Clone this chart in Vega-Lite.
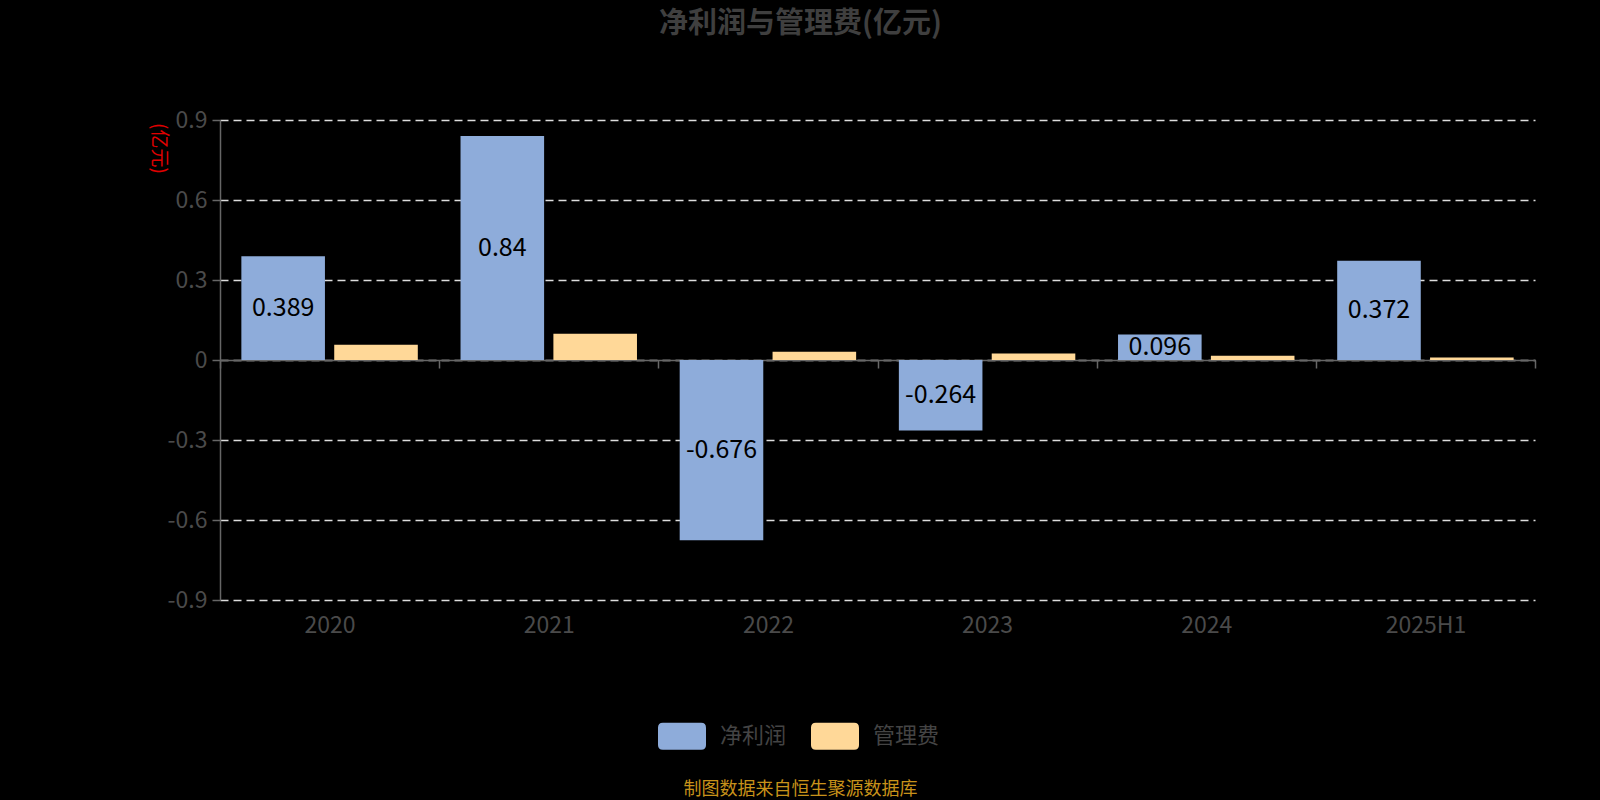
{
  "$schema": "https://vega.github.io/schema/vega-lite/v6.json",
  "width": 1315,
  "height": 480,
  "autosize": {"type": "none"},
  "padding": {"left": 220, "top": 120, "right": 65, "bottom": 200},
  "background": "#000000",
  "title": {
    "text": "净利润与管理费(亿元)",
    "anchor": "middle",
    "frame": "group",
    "dx": -77,
    "offset": 70,
    "fontSize": 29,
    "fontWeight": "bold",
    "color": "#3f3f3f",
    "font": "Noto Sans CJK SC"
  },
  "config": {
    "view": {"stroke": null},
    "font": "Noto Sans CJK SC"
  },
  "data": {
    "values": [
      {"year": "2020", "series": "净利润", "value": 0.389},
      {"year": "2020", "series": "管理费", "value": 0.057},
      {"year": "2021", "series": "净利润", "value": 0.84},
      {"year": "2021", "series": "管理费", "value": 0.098},
      {"year": "2022", "series": "净利润", "value": -0.676},
      {"year": "2022", "series": "管理费", "value": 0.031},
      {"year": "2023", "series": "净利润", "value": -0.264},
      {"year": "2023", "series": "管理费", "value": 0.024},
      {"year": "2024", "series": "净利润", "value": 0.096},
      {"year": "2024", "series": "管理费", "value": 0.016},
      {"year": "2025H1", "series": "净利润", "value": 0.372},
      {"year": "2025H1", "series": "管理费", "value": 0.009}
    ]
  },
  "encoding": {
    "x": {
      "field": "year",
      "type": "nominal",
      "sort": null,
      "scale": {"paddingInner": 0, "paddingOuter": 0},
      "axis": {
        "orient": "bottom",
        "offset": -240,
        "labelAngle": 0,
        "labelFontSize": 23,
        "labelColor": "#4a4a4a",
        "labelPadding": 246,
        "domainColor": "#666666",
        "domainWidth": 1.5,
        "tickColor": "#666666",
        "tickWidth": 1.5,
        "tickSize": 8,
        "tickBand": "extent",
        "grid": false,
        "title": "制图数据来自恒生聚源数据库",
        "titleColor": "#c8921a",
        "titleFontSize": 18,
        "titleFontWeight": "normal",
        "titleX": 580,
        "titleY": 429,
        "titleAlign": "center",
        "titleBaseline": "middle"
      }
    },
    "xOffset": {
      "field": "series",
      "type": "nominal",
      "sort": ["净利润", "管理费"],
      "scale": {"paddingInner": 0.1, "paddingOuter": 0.23}
    }
  },
  "layer": [
    {
      "mark": {"type": "bar"},
      "encoding": {
        "y": {
          "field": "value",
          "type": "quantitative",
          "scale": {"domain": [-0.9, 0.9], "nice": false, "zero": false},
          "axis": {
            "values": [-0.9, -0.6, -0.3, 0, 0.3, 0.6, 0.9],
            "labelExpr": "toString(datum.value)",
            "labelFontSize": 23,
            "labelColor": "#4a4a4a",
            "labelPadding": 5,
            "tickSize": 8,
            "tickColor": "#666666",
            "tickWidth": 1.5,
            "domainColor": "#666666",
            "domainWidth": 1.5,
            "grid": true,
            "gridColor": "#dddddd",
            "gridDash": [8, 5],
            "gridWidth": 1.5,
            "title": "(亿元)",
            "titleColor": "#e00000",
            "titleFontSize": 19,
            "titleFontWeight": "normal",
            "titleAngle": 90,
            "titleX": -62,
            "titleY": 28,
            "titleAlign": "center",
            "titleBaseline": "middle"
          }
        },
        "color": {
          "field": "series",
          "type": "nominal",
          "scale": {"domain": ["净利润", "管理费"], "range": ["#8eacda", "#ffd898"]},
          "legend": {
            "orient": "none",
            "direction": "horizontal",
            "legendX": 438,
            "legendY": 592,
            "padding": 0,
            "title": null,
            "symbolType": "M-0.8,-0.56 L0.8,-0.56 Q1,-0.56 1,-0.36 L1,0.36 Q1,0.56 0.8,0.56 L-0.8,0.56 Q-1,0.56 -1,0.36 L-1,-0.36 Q-1,-0.56 -0.8,-0.56 Z",
            "symbolSize": 2304,
            "symbolStrokeWidth": 0,
            "symbolOpacity": 1,
            "labelFontSize": 22,
            "labelColor": "#444444",
            "labelOffset": 14,
            "columnPadding": 24
          }
        }
      }
    },
    {
      "transform": [
        {"filter": "datum.series == '净利润'"},
        {"calculate": "datum.value / 2", "as": "mid"},
        {"calculate": "toString(datum.value)", "as": "label"}
      ],
      "mark": {"type": "text", "fontSize": 25, "color": "#000000", "baseline": "middle", "align": "center"},
      "encoding": {
        "y": {"field": "mid", "type": "quantitative"},
        "text": {"field": "label"}
      }
    }
  ]
}
